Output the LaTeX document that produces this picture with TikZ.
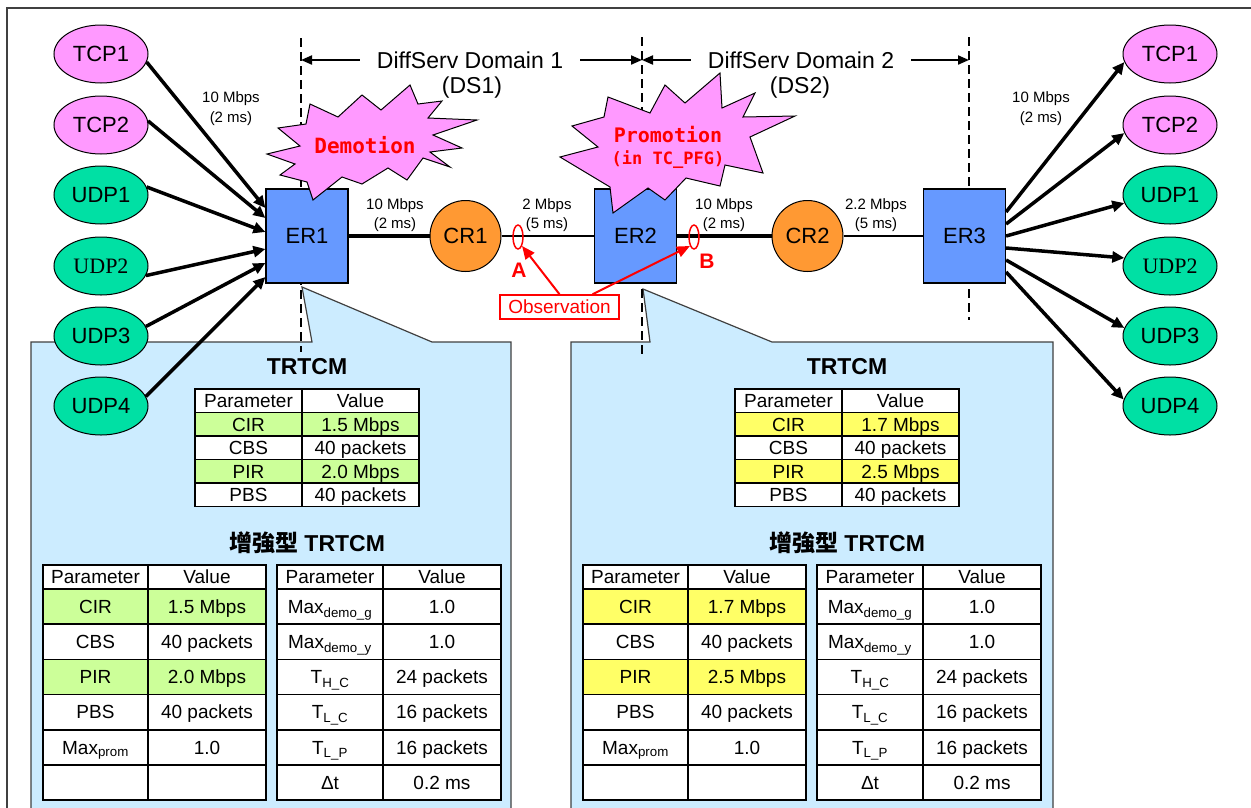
\documentclass[tikz,border=0pt]{standalone}
\usepackage{fontspec}
\setmainfont{Liberation Sans}
\newfontfamily\timesfont{Liberation Serif}
\newfontfamily\starfont{DejaVu Sans Mono}
\newfontfamily\cjk{Noto Sans CJK TC}
\usetikzlibrary{arrows.meta,shapes}

\definecolor{hostpink}{HTML}{FF99FF}
\definecolor{hostgreen}{RGB}{0,224,164}
\definecolor{routerblue}{HTML}{6699FF}
\definecolor{coreorange}{HTML}{FF9933}
\definecolor{callblue}{HTML}{CCECFF}
\definecolor{hlgreen}{HTML}{CCFF99}
\definecolor{hlyellow}{HTML}{FFFF66}
\definecolor{framegray}{HTML}{404040}

\begin{document}
\begin{tikzpicture}[x=1pt,y=-1pt]
			\tikzstyle{every node}+=[inner sep=0pt]
			\tikzstyle{host}=[ellipse,draw=black,line width=1pt,minimum width=94pt,minimum height=58pt,font=\fontsize{22}{26}\selectfont]
			\tikzstyle{tcphost}=[host,fill=hostpink]
			\tikzstyle{udphost}=[host,fill=hostgreen]
			\tikzstyle{serifhost}=[udphost,font=\timesfont\fontsize{22}{26}\selectfont]
			\tikzstyle{router}=[rectangle,draw=black,line width=1.2pt,fill=routerblue,minimum width=82pt,minimum height=94pt,font=\fontsize{22}{26}\selectfont]
			\tikzstyle{core}=[circle,draw=black,line width=1pt,fill=coreorange,minimum size=71pt,font=\fontsize{22}{26}\selectfont]
			\tikzstyle{linkthick}=[line width=4pt]
			\tikzstyle{linkthin}=[line width=1.2pt]
			\tikzstyle{linklbl}=[align=center,font=\fontsize{15}{19.5}\selectfont]
			\tikzstyle{hostarrow}=[line width=3.5pt,-{Triangle[length=12pt,width=11pt]}]
			\tikzstyle{cutline}=[line width=2.5pt,dash pattern=on 9pt off 5pt]
			\tikzstyle{domarrow}=[line width=2pt,-{Triangle[length=11pt,width=9pt]}]
			\tikzstyle{domtxt}=[inner xsep=17pt,font=\fontsize{23}{27}\selectfont]
			\tikzstyle{starshape}=[fill=hostpink,draw=black,line width=1pt]
			\tikzstyle{startxt}=[text=red,font=\starfont\bfseries\fontsize{21}{25}\selectfont]
			\tikzstyle{obsmark}=[ellipse,draw=red,line width=1.5pt,minimum width=10pt,minimum height=24pt]
			\tikzstyle{obslbl}=[text=red,font=\bfseries\fontsize{21}{25}\selectfont]
			\tikzstyle{obsbox}=[draw=red,line width=1.5pt,fill=white,minimum width=119pt,minimum height=24pt,text=red,font=\fontsize{19}{23}\selectfont]
			\tikzstyle{obsarrow}=[red,line width=2pt,-{Triangle[length=13pt,width=11pt]}]
			\tikzstyle{callout}=[fill=callblue,draw=black!75,line width=1.2pt]
			\tikzstyle{boxtitle}=[font=\bfseries\fontsize{23}{27}\selectfont]
			\tikzstyle{tabline}=[line width=1.6pt]
			\tikzstyle{tabtxt}=[text height=13.5pt,text depth=0pt,font=\fontsize{19}{23}\selectfont]
			\useasboundingbox (0,0) rectangle (1251,807);
			% frame and callouts
			\draw [framegray,line width=2pt] (1262,8) -- (7,8) -- (7,815);
			\draw [callout] (31,342) -- (312,342) -- (302,287) -- (432,342) -- (511,342) -- (511,815) -- (31,815) -- cycle;
			\draw [callout] (571,342) -- (650,342) -- (643,289) -- (772,342) -- (1053,342) -- (1053,815) -- (571,815) -- cycle;
			% domain borders
			\coordinate (cutL1) at (301,38);
			\coordinate (cutL2) at (301,352);
			\coordinate (cutLmid) at (301,60);
			\coordinate (cutM1) at (642,37);
			\coordinate (cutM2) at (642,355);
			\coordinate (cutMmid) at (642,60);
			\coordinate (cutR1) at (969,37);
			\coordinate (cutR2) at (969,320);
			\coordinate (cutRmid) at (969,60);
			\draw [cutline] (cutL1) -- (cutL2);
			\draw [cutline] (cutM1) -- (cutM2);
			\draw [cutline] (cutR1) -- (cutR2);
			% tables
			\foreach \ox/\hlc/\cir/\pir/\side in {0/hlgreen/1.5/2.0/l,540/hlyellow/1.7/2.5/r}{
			\begin{scope}[xshift=\ox pt]
			\node [boxtitle] (\side-title) at (307,367) {TRTCM};
			\fill [white] (195,389) rectangle (419,506.5);
			\fill [\hlc] (195,412.5) rectangle (419,436);
			\fill [\hlc] (195,459.5) rectangle (419,483);
			\draw [tabline] (195,389) rectangle (419,506.5);
			\foreach \y in {412.5,436,459.5,483} \draw [tabline] (195,\y) -- (419,\y);
			\draw [tabline] (302,389) -- (302,506.5);
			\foreach \pname/\pval [count=\i] in {Parameter/Value,CIR/\cir\ Mbps,CBS/40 packets,PIR/\pir\ Mbps,PBS/40 packets}{
				\node [tabtxt] (\side-tp-\i) at (248.5,{377.25+23.5*\i}) {\pname};
				\node [tabtxt] (\side-tv-\i) at (360.5,{377.25+23.5*\i}) {\pval};
			}
			\node [boxtitle] (\side-etitle) at (307,543) {{\cjk 增強型} TRTCM};
			\fill [white] (43,565) rectangle (266,800.2);
			\fill [white] (277,565) rectangle (501,800.2);
			\fill [\hlc] (43,589) rectangle (266,624.2);
			\fill [\hlc] (43,659.4) rectangle (266,694.6);
			\draw [tabline] (43,565) rectangle (266,800.2);
			\draw [tabline] (277,565) rectangle (501,800.2);
			\foreach \y in {589,624.2,659.4,694.6,729.8,765} \draw [tabline] (43,\y) -- (266,\y) (277,\y) -- (501,\y);
			\draw [tabline] (148,565) -- (148,800.2) (383,565) -- (383,800.2);
			\node [tabtxt] (\side-ap-0) at (95.5,577) {Parameter};
			\node [tabtxt] (\side-av-0) at (207,577) {Value};
			\node [tabtxt] (\side-bp-0) at (330,577) {Parameter};
			\node [tabtxt] (\side-bv-0) at (442,577) {Value};
			\foreach \pname/\pval [count=\i] in {CIR/\cir\ Mbps,CBS/40 packets,PIR/\pir\ Mbps,PBS/40 packets,Max\textsubscript{prom}/1.0}{
				\node [tabtxt] (\side-ap-\i) at (95.5,{571.4+35.2*\i}) {\pname};
				\node [tabtxt] (\side-av-\i) at (207,{571.4+35.2*\i}) {\pval};
			}
			\foreach \pname/\pval [count=\i] in {Max\textsubscript{demo\_g}/1.0,Max\textsubscript{demo\_y}/1.0,T\textsubscript{H\_C}/24 packets,T\textsubscript{L\_C}/16 packets,T\textsubscript{L\_P}/16 packets,Δt/0.2 ms}{
				\node [tabtxt] (\side-bp-\i) at (330,{571.4+35.2*\i}) {\pname};
				\node [tabtxt] (\side-bv-\i) at (442,{571.4+35.2*\i}) {\pval};
			}
			\end{scope}}
			% hosts
			\foreach \name/\y in {TCP1/54,TCP2/125}{
				\node [tcphost] (l\name) at (101,\y) {\name};
				\node [tcphost] (r\name) at (1170,\y) {\name};
			}
			\foreach \name/\y in {UDP1/195,UDP3/336,UDP4/406}{
				\node [udphost] (l\name) at (101,\y) {\name};
				\node [udphost] (r\name) at (1170,\y) {\name};
			}
			\node [serifhost] (lUDP2) at (101,266) {UDP2};
			\node [serifhost] (rUDP2) at (1170,266) {UDP2};
			% routers
			\node [router] (ER1) at (307,236) {ER1};
			\node [router] (ER2) at (635.5,236) {ER2};
			\node [router] (ER3) at (964.5,236) {ER3};
			\node [core] (CR1) at (465.5,236) {CR1};
			\node [core] (CR2) at (807.5,236) {CR2};
			\draw [linkthick] (ER1) -- (CR1);
			\draw [linkthin] (CR1) -- (ER2);
			\draw [linkthick] (ER2) -- (CR2);
			\draw [linkthin] (CR2) -- (ER3);
			\node [linklbl] (bw0) at (231,108.5) {10 Mbps\\(2 ms)};
			\node [linklbl] (bw1) at (395,215) {10 Mbps\\(2 ms)};
			\node [linklbl] (bw2) at (547,215) {2 Mbps\\(5 ms)};
			\node [linklbl] (bw3) at (724,215) {10 Mbps\\(2 ms)};
			\node [linklbl] (bw4) at (876,215) {2.2 Mbps\\(5 ms)};
			\node [linklbl] (bw5) at (1041,108.5) {10 Mbps\\(2 ms)};
			\foreach \src/\ang/\dy in {lTCP1/-10/28,lTCP2/5/18,lUDP1/10/4,lUDP2/-12/-13,lUDP3/12/-27,lUDP4/12/-41}
				\draw [hostarrow] (\src.\ang) -- ([yshift=\dy pt]ER1.west);
			\foreach \dst/\ang/\dy in {rTCP1/190/24,rTCP2/190/12,rUDP1/190/0,rUDP2/170/-12,rUDP3/170/-24,rUDP4/172/-36}
				\draw [hostarrow] ([yshift=\dy pt]ER3.east) -- (\dst.\ang);
			% observation points
			\node [obsmark] (markA) at (518,237) {};
			\node [obsmark] (markB) at (694,237) {};
			\node [obslbl] (labA) at (519,270) {A};
			\node [obslbl] (labB) at (707,261) {B};
			\node [obsbox] (obs) at (559.5,307) {Observation};
			\draw [obsarrow] (obs.north) -- (markA.south east);
			\draw [obsarrow] ([xshift=33pt]obs.north) -- (markB.south west);
			% explosions
			\draw [starshape] (267,154) -- (300,146) -- (278,128) -- (306,124) -- (310,104) -- (338,117) -- (362,95) -- (381,110) -- (410,85) -- (418,104) -- (442,101) -- (428,118) -- (477,120) -- (433,135) -- (462,148) -- (430,152) -- (450,167) -- (423,158) -- (407,180) -- (388,168) -- (362,184) -- (342,177) -- (313,200) -- (307,182) -- (280,175) -- (295,164) -- cycle;
			\draw [starshape] (608,97) -- (650,113) -- (665,85) -- (685,103) -- (720,73) -- (722,108) -- (755,93) -- (743,117) -- (795,116) -- (750,137) -- (763,173) -- (725,165) -- (720,186) -- (686,178) -- (665,200) -- (648,188) -- (613,213) -- (610,187) -- (560,157) -- (598,147) -- (572,126) -- (604,117) -- cycle;
			\node [startxt] (demo) at (365,145) {Demotion};
			\node [startxt,font=\starfont\bfseries\fontsize{20}{24}\selectfont] (promo) at (668,135) {Promotion};
			\node [startxt,font=\starfont\bfseries\fontsize{17}{21}\selectfont] (promo2) at (668,160) {(in TC\_PFG)};
			% domains
			\node [domtxt] (ds1) at (470,60) {DiffServ Domain 1};
			\node [domtxt] (ds1b) at (472,88) {(DS1)};
			\node [domtxt] (ds2) at (801,60) {DiffServ Domain 2};
			\node [domtxt] (ds2b) at (800,88) {(DS2)};
			\draw [domarrow] (ds1.west) -- (cutLmid);
			\draw [domarrow] (ds1.east) -- (cutMmid);
			\draw [domarrow] (ds2.west) -- (cutMmid);
			\draw [domarrow] (ds2.east) -- (cutRmid);
\end{tikzpicture}
\end{document}
